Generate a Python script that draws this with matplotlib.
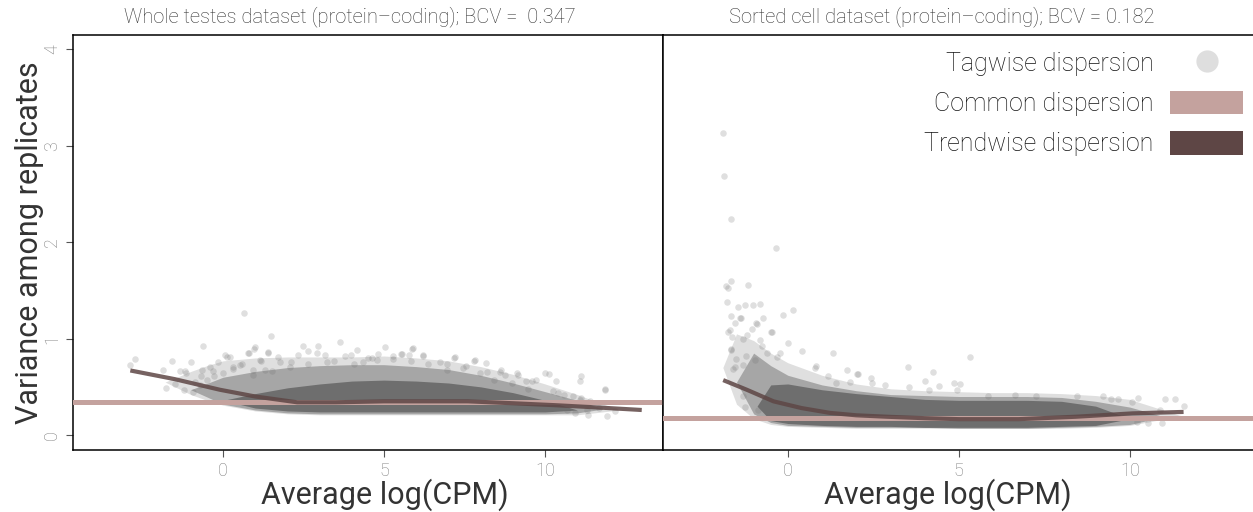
import numpy as np
import matplotlib
matplotlib.use("Agg")
import matplotlib.pyplot as plt
from matplotlib.lines import Line2D
from matplotlib.patches import Patch

plt.rcParams['font.family'] = ['Roboto', 'DejaVu Sans']
plt.rcParams['font.weight'] = 'light'

# ---- data ----
titles = ["Whole testes dataset (protein\u2013coding); BCV =  0.347",
          "Sorted cell dataset (protein\u2013coding); BCV = 0.182"]
common_bcv = [0.347, 0.182]

# trendwise dispersion curves
wt_trend_x = [-2.88, -1.5, -0.1, 1.0, 2.3, 3.5, 5.0, 6.5, 7.6, 9.0, 10.3, 11.7, 13.0]
wt_trend_y = [0.67, 0.58, 0.47, 0.40, 0.34, 0.34, 0.35, 0.35, 0.35, 0.33, 0.31, 0.285, 0.26]
sc_trend_x = [-1.89, -1.2, -0.42, 0.4, 1.23, 2.0, 2.9, 4.0, 5.0, 6.75, 8.42, 10.08, 11.57]
sc_trend_y = [0.57, 0.47, 0.35, 0.28, 0.23, 0.205, 0.19, 0.175, 0.165, 0.165, 0.19, 0.225, 0.24]

# dense cloud envelopes (outer halo / mid / core)
wt_halo_x = [-1.8, -1.0, -0.5, 0, 1, 2, 3, 4, 5, 6, 7, 8, 9, 10, 11, 12.3]
wt_halo_lo = [0.55, 0.42, 0.36, 0.31, 0.25, 0.22, 0.21, 0.21, 0.21, 0.21, 0.21, 0.21, 0.21, 0.21, 0.21, 0.26]
wt_halo_hi = [0.55, 0.66, 0.72, 0.77, 0.80, 0.81, 0.81, 0.81, 0.82, 0.80, 0.77, 0.71, 0.63, 0.53, 0.42, 0.26]
wt_mid_x = [-1.0, 0, 1, 2, 3, 4, 5, 6, 7, 8, 9, 10, 11, 11.8]
wt_mid_lo = [0.47, 0.32, 0.26, 0.23, 0.22, 0.22, 0.22, 0.22, 0.22, 0.22, 0.22, 0.22, 0.23, 0.27]
wt_mid_hi = [0.47, 0.60, 0.66, 0.70, 0.72, 0.73, 0.73, 0.71, 0.68, 0.62, 0.54, 0.45, 0.36, 0.27]
wt_core_x = [0.0, 1, 2, 3, 4, 5, 6, 7, 8, 9, 10, 11.0]
wt_core_lo = [0.36, 0.28, 0.25, 0.24, 0.24, 0.24, 0.24, 0.24, 0.24, 0.24, 0.24, 0.26]
wt_core_hi = [0.36, 0.43, 0.49, 0.53, 0.56, 0.57, 0.56, 0.54, 0.50, 0.44, 0.36, 0.26]

sc_halo_x = [-1.9, -1.5, -1.0, -0.5, 0, 1, 2, 3, 4, 5, 6, 7, 8, 9, 10, 11.5]
sc_halo_lo = [0.70, 0.32, 0.17, 0.11, 0.09, 0.08, 0.07, 0.07, 0.07, 0.07, 0.07, 0.07, 0.07, 0.08, 0.10, 0.20]
sc_halo_hi = [0.70, 1.05, 0.98, 0.85, 0.75, 0.62, 0.53, 0.48, 0.46, 0.45, 0.44, 0.44, 0.43, 0.41, 0.37, 0.20]
sc_mid_x = [-1.5, -1.0, -0.5, 0, 1, 2, 3, 4, 5, 6, 7, 8, 9, 10, 11.0]
sc_mid_lo = [0.55, 0.22, 0.13, 0.10, 0.09, 0.08, 0.08, 0.08, 0.07, 0.07, 0.07, 0.08, 0.09, 0.11, 0.19]
sc_mid_hi = [0.55, 0.85, 0.72, 0.62, 0.52, 0.46, 0.42, 0.41, 0.40, 0.40, 0.40, 0.39, 0.35, 0.29, 0.19]
sc_core_x = [-0.9, -0.5, 0, 1, 2, 3, 4, 5, 6, 7, 8, 9, 10.0]
sc_core_lo = [0.30, 0.15, 0.12, 0.10, 0.09, 0.09, 0.08, 0.08, 0.08, 0.08, 0.09, 0.10, 0.17]
sc_core_hi = [0.30, 0.52, 0.53, 0.47, 0.43, 0.40, 0.37, 0.36, 0.36, 0.36, 0.35, 0.30, 0.17]

# individual tagwise points outside the dense cloud
wt_pts_x = [0.64, 1.48, -0.62, 3.62, 5.02, 4.17, 5.88, 5.55, 4.82, 2.47, 2.96, 0.97, 0.77, 1.40,
            6.21, 7.18, 7.80, 6.74, -2.88, -2.75, -1.58, -1.78, -1.48, -1.15, -1.88, 8.60, 9.16,
            10.00, 10.13, 11.09, 11.12, 11.85, 11.92, 12.18, 9.60, 9.72, 11.12,
            -0.42, -0.15, 0.11, 0.31, 0.51, 1.18, 1.71, 2.11, 2.63, 3.16, 3.43, 3.96, 4.36, 4.62,
            5.28, 5.82, 6.35, 6.94, 7.54, 8.20, 8.74, 9.40, 10.33, 10.60, 11.40, 11.66, 10.93,
            11.33, -0.68, -0.88, -1.20, -1.00, -0.28, 1.31, 0.92,
            0.99, 0.06, 0.22, 0.79, 1.38, 2.34, 2.91, 3.79, 4.51, 0.58, 1.15, 1.77, 2.65, 3.22,
            4.05, 4.77, -0.66, -0.30, -1.18, -1.34, -0.92, -0.71, -0.51, 0.01, 0.32, 0.94, 1.51,
            2.08, 5.89, 5.76, 5.27, 5.52, 6.20, 7.20, 7.83, 8.17, 7.44, 8.62, 9.12, 11.86,
            9.48, 8.96, 10.24, 10.41, 10.86, 11.09, 11.30, 10.67, 8.40, 7.98, 6.94]
wt_pts_y = [1.27, 1.03, 0.92, 0.97, 0.91, 0.88, 0.89, 0.84, 0.84, 0.92, 0.92, 0.89, 0.85, 0.85,
            0.82, 0.80, 0.77, 0.76, 0.73, 0.79, 0.77, 0.49, 0.53, 0.64, 0.67, 0.65, 0.62,
            0.64, 0.63, 0.56, 0.61, 0.48, 0.20, 0.25, 0.56, 0.57, 0.38,
            0.71, 0.76, 0.81, 0.69, 0.73, 0.77, 0.81, 0.76, 0.87, 0.83, 0.77, 0.83, 0.76, 0.80,
            0.79, 0.77, 0.74, 0.74, 0.72, 0.65, 0.62, 0.56, 0.56, 0.42, 0.35, 0.28, 0.23,
            0.21, 0.61, 0.55, 0.47, 0.76, 0.61, 0.68, 0.62,
            0.91, 0.83, 0.81, 0.85, 0.86, 0.83, 0.85, 0.82, 0.80, 0.74, 0.78, 0.76, 0.74, 0.76,
            0.74, 0.78, 0.68, 0.66, 0.66, 0.66, 0.45, 0.52, 0.57, 0.64, 0.71, 0.68, 0.66,
            0.71, 0.90, 0.83, 0.82, 0.84, 0.83, 0.81, 0.78, 0.75, 0.70, 0.67, 0.64, 0.47,
            0.48, 0.54, 0.46, 0.44, 0.40, 0.36, 0.26, 0.26, 0.57, 0.64, 0.67]

sc_pts_x = [-1.89, -1.87, -1.67, -0.35, -1.82, -1.74, -1.67, -1.16, -1.79, -1.45, -1.24, -1.03,
            -0.82, -0.13, 0.14, -1.65, -1.55, -1.37, -1.06, -0.89, -0.72, -1.74, -1.62, -1.18,
            -0.82, -0.45, 0.01, 0.42, 1.31, 0.81, 1.72, 2.06, 2.42, 3.52, -1.65, -1.52, -1.21,
            -0.96, -0.62, -0.33, -1.55, -1.32, 5.32, 4.23, 3.55, 4.13, 4.42, 5.03, 4.95, 5.86,
            6.64, 7.27, 8.44, 9.20, 9.66, 10.24, 11.04, 11.32, 11.59, 10.88, 10.54, 10.93, 10.20,
            10.05, 9.46, 0.79, 2.01, 2.45, 2.84, 4.00, 4.86,
            -1.40, -0.92, -1.70, -0.48, -1.31, -1.65, -0.77, -0.23, -1.60, 1.18, 1.42, 1.81,
            -1.31, -1.26, -0.87]
sc_pts_y = [3.13, 2.69, 2.24, 1.94, 1.55, 1.53, 1.60, 1.56, 1.38, 1.33, 1.35, 1.35,
            1.36, 1.25, 1.30, 1.23, 1.16, 1.21, 1.10, 1.15, 1.21, 1.07, 1.02, 1.04,
            0.99, 1.07, 0.96, 0.87, 0.85, 0.72, 0.68, 0.63, 0.59, 0.71, 0.89, 0.79, 0.82,
            0.78, 0.85, 0.81, 0.71, 0.73, 0.81, 0.65, 0.50, 0.47, 0.51, 0.53, 0.47, 0.41,
            0.42, 0.40, 0.40, 0.40, 0.37, 0.38, 0.37, 0.37, 0.30, 0.26, 0.13, 0.13, 0.14,
            0.34, 0.37, 0.70, 0.63, 0.54, 0.52, 0.56, 0.54,
            1.21, 1.16, 1.09, 1.07, 1.00, 0.88, 0.92, 0.85, 0.69, 0.61, 0.54, 0.55,
            0.40, 0.29, 0.26]

xlims = [(-4.66, 13.66), (-3.65, 13.6)]
ylim = (-0.155, 4.15)

pt_color = "#6e6e6e"
common_color = "#c4a29e"
trend_color = "#5e4645"
text_color = "#333333"
tick_color = "#7f7f7f"

fig = plt.figure(figsize=(12.53, 5.12), dpi=100)
ax1 = fig.add_axes([73 / 1253, 1 - 450 / 512, 590 / 1253, 415 / 512])
ax2 = fig.add_axes([663 / 1253, 1 - 450 / 512, 590 / 1253, 415 / 512])

panels = [
    (ax1, (wt_halo_x, wt_halo_lo, wt_halo_hi), (wt_mid_x, wt_mid_lo, wt_mid_hi),
     (wt_core_x, wt_core_lo, wt_core_hi), wt_pts_x, wt_pts_y, wt_trend_x, wt_trend_y),
    (ax2, (sc_halo_x, sc_halo_lo, sc_halo_hi), (sc_mid_x, sc_mid_lo, sc_mid_hi),
     (sc_core_x, sc_core_lo, sc_core_hi), sc_pts_x, sc_pts_y, sc_trend_x, sc_trend_y),
]
xlabel_pos = [0.529, 0.483]

for i, (ax, halo, mid, core, px, py, tx, ty) in enumerate(panels):
    ax.fill_between(halo[0], halo[1], halo[2], color=pt_color, alpha=0.22, lw=0, zorder=1)
    ax.fill_between(mid[0], mid[1], mid[2], color=pt_color, alpha=0.5, lw=0, zorder=1)
    ax.fill_between(core[0], core[1], core[2], color=pt_color, alpha=1.0, lw=0, zorder=1)
    ax.scatter(px, py, s=22, color=pt_color, alpha=0.22, lw=0, zorder=2)
    ax.axhline(common_bcv[i], color=common_color, lw=3.6, zorder=3)
    ax.plot(tx, ty, color=trend_color, lw=3, alpha=0.85, solid_capstyle='butt', zorder=4)

    ax.set_xlim(*xlims[i])
    ax.set_ylim(*ylim)
    ax.set_xticks([0, 5, 10])
    ax.tick_params(axis='both', direction='out', length=5, width=0.8, color='#555555',
                   labelcolor=tick_color, labelsize=13)
    for sp in ax.spines.values():
        sp.set_color('black')
        sp.set_linewidth(1.1)
    ax.set_xlabel("Average log(CPM)", fontsize=22, color=text_color)
    ax.xaxis.set_label_coords(xlabel_pos[i], -0.068)

ax1.set_yticks([0, 1, 2, 3, 4])
for lab in ax1.get_yticklabels():
    lab.set_rotation(90)
    lab.set_va('center')
ax1.set_ylabel("Variance among replicates", fontsize=22, color=text_color)
ax1.yaxis.set_label_coords(-0.049, 0.5)
ax2.set_yticks([])
ax2.spines['right'].set_visible(False)

fig.text(350 / 1253, 1 - 17 / 512, titles[0], ha='center', va='center', fontsize=14.5, color=text_color)
fig.text(942 / 1253, 1 - 17 / 512, titles[1], ha='center', va='center', fontsize=14.5, color=text_color)

handles = [
    Line2D([], [], marker='o', ls='none', markersize=16, markerfacecolor='#dedede',
           markeredgewidth=0),
    Patch(facecolor=common_color, edgecolor='none'),
    Patch(facecolor=trend_color, edgecolor='none'),
]
labels = ["Tagwise dispersion", "Common dispersion", "Trendwise dispersion"]
ax2.legend(handles, labels, loc='upper right', bbox_to_anchor=(1.0, 0.987), frameon=False,
           markerfirst=False, fontsize=18, handlelength=2.92, handleheight=1.08,
           labelspacing=0.6, handletextpad=0.65, borderaxespad=0.0, labelcolor='#111111')

fig.savefig("out.png", dpi=100)
